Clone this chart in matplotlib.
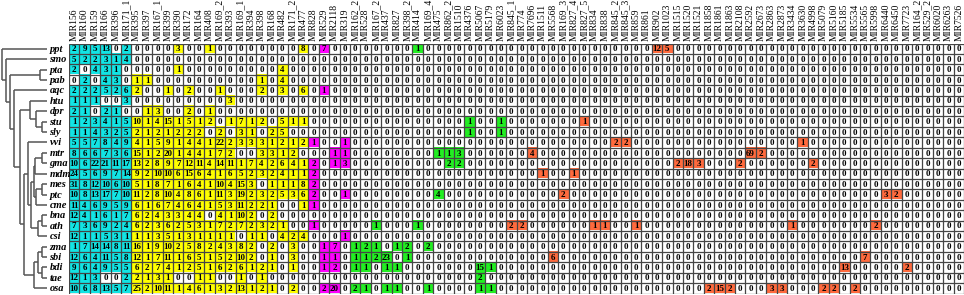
import numpy as np
import matplotlib.pyplot as plt

species = ["ppt", "smo", "pta", "pab", "aqc", "htu", "dpr", "stu", "sly", "vvi",
           "mtr", "gma", "mdm", "mes", "ptc", "cme", "bna", "ath", "csi",
           "zma", "sbi", "bdi", "tae", "osa"]

mirnas = ["MIR156", "MIR160", "MIR159", "MIR166", "MIR396", "MIR171_1",
          "MIR395", "MIR397", "MIR167_1", "MIR399", "MIR390", "MIR172", "MIR164",
          "MIR408", "MIR169_2", "MIR393", "MIR169_1", "MIR394", "MIR398", "MIR168",
          "MIR482", "MIR171_2", "MIR477",
          "MIR828", "MIR529", "MIR2118", "MIR319",
          "MIR162_2", "MIR528", "MIR167_2", "MIR437", "MIR827", "MIR398_2", "MIR414",
          "MIR169_4", "MIR475", "MIR862_2", "MIR1510", "MIR4376", "MIR5067",
          "MIR5179", "MIR6023",
          "MIR845_1", "MIR774", "MIR7696", "MIR1511", "MIR5568", "MIR169_3",
          "MIR827_4", "MIR827_5", "MIR834", "MIR838", "MIR845_2", "MIR845_3",
          "MIR859", "MIR861", "MIR902", "MIR1023", "MIR1515", "MIR1520", "MIR1521",
          "MIR1858", "MIR1861", "MIR1863", "MIR2108", "MIR2592", "MIR2673",
          "MIR2863", "MIR2873", "MIR3434", "MIR3630", "MIR4998", "MIR5079",
          "MIR5160", "MIR5185", "MIR5534", "MIR5565", "MIR5998", "MIR6440",
          "MIR6450", "MIR7723", "MIR164_2", "MIR529_2", "MIR6020", "MIR6263",
          "MIR7526"]

# number of families in each colour block, left to right
group_sizes = [6, 17, 4, 15, 44]
group_colors = ["#12e4e4", "#ffff00", "#ff00ff", "#22ee22", "#ff6a3d"]

# counts for the first 25 families (MIR156 ... MIR529)
ppt = [2, 9, 5, 13, 0, 2, 0, 0, 0, 0, 3, 0, 0, 1, 0, 0, 0, 0, 0, 0, 0, 0, 8, 0, 7]
smo = [5, 2, 2, 3, 1, 4, 0, 0, 0, 0, 0, 0, 0, 0, 0, 0, 0, 0, 0, 0, 0, 0, 0, 0, 0]
pta = [2, 0, 4, 3, 1, 0, 0, 0, 0, 0, 1, 0, 0, 0, 0, 0, 0, 0, 0, 0, 4, 0, 0, 0, 0]
pab = [0, 2, 0, 4, 3, 0, 1, 1, 0, 0, 0, 0, 0, 0, 0, 0, 0, 0, 1, 0, 4, 0, 0, 0, 0]
aqc = [2, 2, 2, 5, 2, 6, 2, 0, 0, 1, 0, 2, 0, 0, 1, 0, 0, 0, 2, 0, 3, 0, 6, 0, 1]
htu = [1, 1, 1, 0, 0, 3, 0, 0, 0, 0, 0, 0, 0, 0, 0, 3, 0, 0, 0, 0, 0, 0, 0, 0, 0]
dpr = [2, 1, 0, 2, 1, 0, 0, 1, 3, 0, 0, 2, 0, 1, 0, 0, 0, 0, 0, 0, 0, 0, 0, 0, 0]
stu = [1, 2, 3, 4, 1, 5, 10, 1, 4, 15, 1, 5, 1, 2, 0, 1, 7, 1, 2, 0, 5, 1, 1, 0, 0]
sly = [1, 1, 4, 3, 2, 5, 2, 1, 2, 1, 2, 2, 2, 0, 2, 0, 3, 1, 0, 2, 5, 0, 0, 0, 0]
vvi = [5, 5, 7, 8, 4, 9, 4, 1, 5, 9, 1, 4, 4, 1, 22, 2, 3, 3, 3, 1, 2, 1, 2, 1, 0]
mtr = [8, 6, 6, 7, 3, 6, 15, 1, 2, 20, 1, 4, 4, 1, 7, 2, 0, 0, 3, 3, 1, 2, 0, 0, 0]
gma = [10, 6, 22, 21, 11, 17, 13, 2, 8, 9, 7, 12, 11, 4, 14, 11, 1, 7, 4, 2, 6, 4, 1, 2, 0]
mdm = [24, 5, 6, 9, 7, 14, 9, 2, 10, 10, 6, 15, 6, 4, 1, 6, 5, 2, 3, 2, 4, 1, 1, 2, 0]
mes = [31, 8, 12, 10, 6, 10, 5, 1, 8, 7, 1, 6, 4, 1, 10, 4, 15, 3, 0, 1, 1, 1, 8, 2, 0]
ptc = [10, 8, 13, 17, 7, 10, 11, 2, 8, 10, 4, 8, 6, 1, 11, 3, 19, 2, 3, 2, 5, 3, 6, 2, 0]
cme = [11, 4, 6, 9, 5, 9, 6, 1, 6, 7, 4, 6, 4, 1, 5, 3, 11, 2, 2, 1, 0, 0, 1, 1, 0]
bna = [12, 4, 1, 6, 1, 7, 6, 2, 4, 3, 3, 4, 4, 0, 4, 1, 10, 2, 0, 2, 0, 0, 0, 0, 0]
ath = [7, 3, 6, 9, 2, 4, 6, 2, 3, 6, 2, 5, 3, 1, 7, 2, 7, 2, 3, 2, 1, 0, 0, 1, 0]
csi = [12, 1, 1, 5, 3, 1, 1, 1, 3, 5, 1, 3, 1, 1, 1, 1, 0, 1, 1, 0, 4, 2, 4, 0, 0]
zma = [1, 7, 14, 14, 8, 11, 16, 1, 9, 10, 2, 5, 8, 2, 4, 3, 8, 2, 0, 2, 0, 3, 0, 0, 1]
sbi = [12, 6, 4, 11, 5, 8, 12, 1, 7, 11, 1, 6, 5, 1, 5, 2, 10, 2, 0, 1, 0, 3, 0, 0, 1]
bdi = [9, 6, 4, 9, 5, 5, 6, 2, 7, 4, 1, 2, 5, 1, 6, 2, 6, 1, 2, 1, 0, 1, 0, 0, 1]
tae = [12, 1, 3, 0, 0, 2, 2, 1, 3, 1, 0, 0, 1, 1, 0, 0, 1, 0, 1, 0, 0, 0, 0, 0, 0]
osa = [10, 6, 8, 13, 5, 7, 25, 2, 10, 11, 1, 4, 6, 1, 3, 2, 13, 1, 2, 1, 0, 2, 0, 0, 2]

dense_rows = [ppt, smo, pta, pab, aqc, htu, dpr, stu, sly, vvi, mtr, gma, mdm,
              mes, ptc, cme, bna, ath, csi, zma, sbi, bdi, tae, osa]

# non-zero counts in the remaining (mostly empty) families
extra_counts = [
    ("ppt", "MIR414", 1), ("ppt", "MIR902", 12), ("ppt", "MIR1023", 5),
    ("stu", "MIR4376", 1), ("stu", "MIR6023", 1), ("stu", "MIR827_5", 1),
    ("sly", "MIR4376", 1), ("sly", "MIR6023", 1),
    ("vvi", "MIR319", 1), ("vvi", "MIR845_2", 2), ("vvi", "MIR845_3", 2),
    ("vvi", "MIR3630", 1),
    ("mtr", "MIR2118", 1), ("mtr", "MIR319", 1), ("mtr", "MIR475", 1),
    ("mtr", "MIR862_2", 1), ("mtr", "MIR1510", 3), ("mtr", "MIR7696", 4),
    ("mtr", "MIR2592", 69), ("mtr", "MIR2673", 2),
    ("gma", "MIR2118", 1), ("gma", "MIR319", 3), ("gma", "MIR862_2", 2),
    ("gma", "MIR1510", 2), ("gma", "MIR1515", 2), ("gma", "MIR1520", 18),
    ("gma", "MIR1521", 3), ("gma", "MIR2108", 2), ("gma", "MIR4998", 2),
    ("mdm", "MIR1511", 1), ("mdm", "MIR827_4", 1),
    ("ptc", "MIR319", 1), ("ptc", "MIR475", 4), ("ptc", "MIR169_3", 2),
    ("ptc", "MIR6440", 3), ("ptc", "MIR6450", 2),
    ("ath", "MIR167_2", 1), ("ath", "MIR414", 1), ("ath", "MIR845_1", 2),
    ("ath", "MIR774", 2), ("ath", "MIR834", 1), ("ath", "MIR838", 1),
    ("ath", "MIR859", 1), ("ath", "MIR3434", 1), ("ath", "MIR5998", 2),
    ("csi", "MIR319", 1),
    ("zma", "MIR2118", 7), ("zma", "MIR162_2", 1), ("zma", "MIR528", 2),
    ("zma", "MIR167_2", 1), ("zma", "MIR827", 1), ("zma", "MIR398_2", 2),
    ("zma", "MIR169_4", 2),
    ("sbi", "MIR2118", 1), ("sbi", "MIR162_2", 1), ("sbi", "MIR528", 1),
    ("sbi", "MIR167_2", 2), ("sbi", "MIR437", 23), ("sbi", "MIR398_2", 1),
    ("sbi", "MIR5568", 6), ("sbi", "MIR5565", 7),
    ("bdi", "MIR2118", 2), ("bdi", "MIR162_2", 1), ("bdi", "MIR528", 1),
    ("bdi", "MIR437", 1), ("bdi", "MIR827", 1), ("bdi", "MIR5067", 15),
    ("bdi", "MIR5179", 1), ("bdi", "MIR5185", 13), ("bdi", "MIR7723", 2),
    ("tae", "MIR5067", 2),
    ("osa", "MIR2118", 20), ("osa", "MIR162_2", 2), ("osa", "MIR528", 1),
    ("osa", "MIR437", 1), ("osa", "MIR827", 1), ("osa", "MIR169_4", 1),
    ("osa", "MIR5067", 1), ("osa", "MIR5179", 1), ("osa", "MIR1858", 2),
    ("osa", "MIR1861", 15), ("osa", "MIR1863", 2), ("osa", "MIR2863", 3),
    ("osa", "MIR2873", 3), ("osa", "MIR5079", 2), ("osa", "MIR5160", 2),
    ("osa", "MIR5534", 2),
]

# species tree: (merge position, left, right); leaves are species codes
tree = (2, "ppt",
        (6, "smo",
         (10, (40, "pta", "pab"),
          (14, "aqc",
           (20, (30, "htu", (36, "dpr", (42, "stu", "sly"))),
            (24, (28, "vvi",
                  (31, (34, (35, (42, "mtr", "gma"), "mdm"),
                        (36, (42, "mes", "ptc"), "cme")),
                   (38, (42, "bna", "ath"), "csi"))),
             (34, (38, (42, "zma", "sbi"), (42, "bdi", "tae")), "osa")))))))

n_rows, n_cols = len(species), len(mirnas)
counts = np.zeros((n_rows, n_cols), dtype=int)
for i, row in enumerate(dense_rows):
    counts[i, :len(row)] = row
for sp, fam, v in extra_counts:
    counts[species.index(sp), mirnas.index(fam)] = v

col_group = np.repeat(np.arange(len(group_sizes)), group_sizes)
rgb = np.ones((n_rows, n_cols, 3))
for j in range(n_cols):
    c = np.array(plt.matplotlib.colors.to_rgb(group_colors[col_group[j]]))
    rgb[counts[:, j] > 0, j] = c

W, H = 964, 295
fig = plt.figure(figsize=(W / 100, H / 100), dpi=100)
grid_top, grid_bot = 43.5, 293.5
ax = fig.add_axes([69 / W, (H - grid_bot) / H, (W - 69) / W, (grid_bot - grid_top) / H])
ax.imshow(rgb, aspect="auto", extent=(0, n_cols, n_rows, 0), interpolation="nearest")
ax.hlines(np.arange(n_rows + 1), 0, n_cols, color="#454545", lw=0.9)
ax.vlines(np.arange(n_cols + 1), 0, n_rows, color="#454545", lw=0.9)
ax.set_xlim(0, n_cols)
ax.set_ylim(n_rows, 0)
for s in ax.spines.values():
    s.set_visible(False)

for i in range(n_rows):
    for j in range(n_cols):
        ax.text(j + 0.5, i + 0.56, str(counts[i, j]), ha="center", va="center",
                fontsize=6.5, fontweight="bold", family="Liberation Serif")

ax.xaxis.tick_top()
ax.set_xticks(np.arange(n_cols) + 0.5)
ax.set_xticklabels(mirnas, rotation=90, fontsize=6.9, family="Liberation Serif")
ax.tick_params(axis="x", length=0, pad=1.5)
ax.set_yticks([])

# dendrogram
dax = fig.add_axes([0, (H - grid_bot) / H, 69 / W, (grid_bot - grid_top) / H])
dax.set_xlim(0, 69)
dax.set_ylim(n_rows, 0)
dax.axis("off")
leaf_x = 47


def draw(node):
    if isinstance(node, str):
        y = species.index(node) + 0.5
        dax.text(49.5, y + 0.05, node, ha="left", va="center", fontsize=7.5,
                 fontweight="bold", fontstyle="italic", family="Liberation Serif")
        return leaf_x, y
    xm, a, b = node
    xa, ya = draw(a)
    xb, yb = draw(b)
    kw = dict(color="#555555", lw=1.1, solid_capstyle="butt")
    dax.plot([xm, xa], [ya, ya], **kw)
    dax.plot([xm, xb], [yb, yb], **kw)
    dax.plot([xm, xm], [ya, yb], **kw)
    return xm, (ya + yb) / 2


draw(tree)

fig.savefig("out.png", dpi=100)
